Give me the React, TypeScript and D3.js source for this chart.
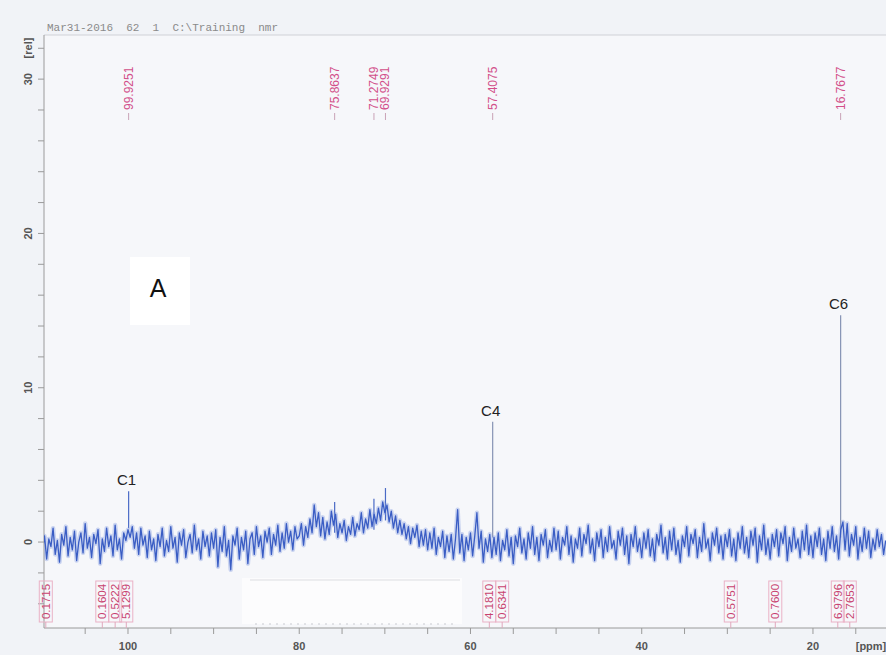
import React from 'react';
import * as d3 from 'd3';

// 13C spectrum, intensity read every 0.25 ppm starting at 110 ppm (going upfield)
const noise110to100 = [-0.6, 0.4, -1.1, 0.2, -0.3, 0.9, -0.8, 0.1, -1.3, 0.5, -0.2, 1.0, -0.9, 0.3, -0.5, 0.7, -1.2, 0.0, 0.6, -0.7, 1.2, -0.4, 0.3, -1.0, 0.5, -0.1, 0.8, -1.4, 0.2, -0.6, 0.9, -0.3, 0.4, -0.9, 1.1, -0.5, 0.2, -1.1, 0.6, 0.1];
const noise100to90 = [0.8, 0.3, 1.0, -0.4, 0.6, -0.8, 0.9, -0.2, 0.4, -1.0, 0.7, -0.5, 0.2, -1.2, 0.5, -0.3, 0.9, -0.9, 0.1, -0.6, 1.0, -0.4, 0.3, -1.3, 0.6, -0.2, 0.8, -1.0, 0.0, 0.5, -0.7, 1.1, -0.5, 0.2, -1.1, 0.7, -0.3, 0.4, -0.9, 0.6];
const noise90to80 = [-0.4, 0.8, -1.6, 0.3, -0.6, 1.0, -0.9, 0.1, -1.8, 0.4, -0.2, 0.9, -1.1, 0.3, -0.5, 0.7, -1.4, 0.2, 0.6, -0.8, 1.0, -0.3, 0.4, -1.0, 0.7, 0.0, 0.9, -0.8, 0.5, -0.2, 1.1, -0.6, 0.6, -0.4, 1.2, 0.0, 0.7, -0.5, 1.0, 0.2];
const hump80to70 = [0.4, 1.2, -0.2, 1.0, 0.3, 1.5, 0.6, 2.4, 1.0, 1.9, 0.4, 1.6, 0.2, 1.3, 0.5, 2.0, 1.1, 1.8, 0.3, 1.2, 0.6, 1.4, 0.1, 1.0, 0.5, 1.6, 0.4, 1.2, 0.8, 1.9, 0.6, 1.5, 0.9, 2.1, 1.0, 1.8, 1.2, 2.2, 1.4, 2.6];
const hump70to60 = [1.9, 2.4, 1.3, 2.0, 0.9, 1.7, 0.6, 1.4, 0.5, 1.2, 0.2, 1.0, -0.1, 0.9, 0.3, 1.1, -0.3, 0.7, -0.2, 0.8, -0.5, 0.6, -0.4, 0.9, -0.8, 0.3, -0.3, 0.7, -1.0, 0.4, -0.6, 0.5, -1.1, 0.2, 2.1, -0.7, 0.5, -1.2, 0.3, -0.5];
const noise60to50 = [0.6, -0.9, 0.4, 1.9, -0.4, 0.7, -1.3, 0.2, -0.6, 0.5, -1.0, 0.3, -0.8, 0.6, -1.2, 0.1, -0.5, 0.8, -0.9, 0.3, -1.4, 0.4, -0.3, 0.9, -0.7, 0.2, -1.1, 0.6, -0.4, 1.0, -0.8, 0.3, -1.2, 0.5, -0.2, 0.8, -1.0, 0.1, -0.6, 0.9];
const noise50to40 = [-0.5, 0.7, -1.1, 0.3, -0.2, 1.0, -0.8, 0.4, -1.3, 0.2, -0.4, 0.9, -0.9, 0.5, -0.1, 1.1, -0.7, 0.2, -1.2, 0.6, -0.3, 0.8, -1.0, 0.3, -0.6, 1.0, -0.4, 0.1, -1.1, 0.7, -0.2, 0.9, -0.8, 0.4, -1.4, 0.5, -0.3, 1.0, -0.6, 0.2];
const noise40to30 = [-1.0, 0.6, -0.4, 0.8, -0.9, 0.2, -1.2, 0.5, -0.2, 1.1, -0.7, 0.3, -1.1, 0.7, -0.5, 0.9, -0.8, 0.1, -1.3, 0.4, -0.3, 1.0, -0.9, 0.5, -0.1, 0.8, -1.0, 0.3, -0.6, 1.2, -0.4, 0.2, -1.2, 0.6, -0.2, 0.9, -0.7, 0.4, -1.1, 0.5];
const noise30to20 = [-0.3, 0.8, -0.9, 0.2, -1.2, 0.6, -0.4, 1.0, -0.7, 0.3, -1.0, 0.7, -0.2, 0.9, -1.3, 0.4, -0.5, 1.1, -0.8, 0.2, -1.1, 0.5, -0.3, 0.8, -0.9, 0.6, -0.1, 1.0, -1.2, 0.3, -0.6, 0.9, -0.4, 0.2, -1.0, 0.7, -0.5, 1.1, -0.8, 0.4];
const noise20to11 = [-1.0, 0.6, -0.3, 0.9, -0.8, 0.2, -1.2, 0.7, -0.4, 1.0, -0.6, 0.4, -1.1, 0.8, 1.3, -0.5, 1.2, -0.9, 0.5, -0.2, 1.0, -1.1, 0.3, -0.6, 0.9, -0.4, 0.7, -1.0, 0.2, -0.5, 0.8, -0.3, 0.5, -0.8, 0.1];
const startPpm = 110;
const stepPpm = 0.25;

// picked peaks (apex height and where the spike leaves the noise band)
const peakPpm = [99.9251, 75.8637, 71.2749, 69.9291, 57.4075, 16.7677];
const peakHeight = [3.3, 2.6, 2.8, 3.5, 7.8, 14.7];
const peakBase = [0.9, 0.6, 0.8, 1.4, 0.3, 0.3];
const peakNames = ['C1', '', '', '', 'C4', 'C6'];

// integrals along the bottom
const integralPpm = [109.6, 103.0, 101.5, 100.2, 57.8, 56.3, 29.6, 24.4, 17.1, 15.7];
const integralValues = ['0.1715', '0.1604', '0.5222', '5.1299', '4.1810', '0.6341', '0.5751', '0.7600', '6.9796', '2.7653'];

const xTickValues = [100, 80, 60, 40, 20];
const yTickValues = [0, 10, 20, 30];

const W = 886, H = 655;
const left = 44, right = 886, top = 35, bottom = 628;
const pink = '#d2508a';
const axisGray = '#9a9a9a';

export default function App() {
  const x = d3.scaleLinear().domain([109.81, 11.47]).range([left, right]);
  const y = d3.scaleLinear().domain([-5.57, 32.86]).range([bottom, top]);

  const noise = [].concat(noise110to100, noise100to90, noise90to80, hump80to70, hump70to60,
    noise60to50, noise50to40, noise40to30, noise30to20, noise20to11);
  const pts = noise.map((v, i) => ({ ppm: startPpm - i * stepPpm, v }));

  const line = d3.line<any>().x(d => x(d.ppm)).y(d => y(d.v));
  const minorX = d3.range(10, 111, 5).filter(v => x(v) >= left && x(v) <= right);
  const minorY = d3.range(-4, 33, 2);
  const font = 'Liberation Sans, Arial, sans-serif';

  return (
    <svg width={W} height={H} style={{ position: 'fixed', left: 0, top: 0, background: '#f1f3f7' }}>
      <defs>
        <clipPath id="plot"><rect x={left} y={top} width={right - left} height={bottom - top} /></clipPath>
        <filter id="soft"><feGaussianBlur stdDeviation="0.5" /></filter>
      </defs>
      <rect x={0} y={0} width={W} height={H} fill="#f1f3f7" />
      <rect x={left} y={top} width={right - left} height={bottom - top} fill="#f6f7fa" />
      {/* header line of the printout */}
      <text x={47} y={31} fontFamily="Liberation Mono, Courier New, monospace" fontSize={11} fill="#8a8a8a" xmlSpace="preserve">
        {'Mar31-2016  62  1  C:\\Training  nmr'}
      </text>

      {/* frame */}
      <line x1={left} x2={right} y1={top} y2={top} stroke="#cfd1d6" strokeWidth={1} />
      <line x1={left} x2={left} y1={top} y2={bottom} stroke={axisGray} strokeWidth={1} />
      <line x1={left} x2={right} y1={bottom} y2={bottom} stroke={axisGray} strokeWidth={1} />

      {/* y axis */}
      {minorY.map(v => (
        <line key={'yt' + v} x1={left - 6} x2={left} y1={y(v)} y2={y(v)} stroke={axisGray} />
      ))}
      {yTickValues.map(v => (
        <text key={'yl' + v} transform={`translate(28,${y(v)}) rotate(-90)`} textAnchor="middle" dominantBaseline="central"
          fontFamily={font} fontWeight="bold" fontSize={11} fill="#555">{v}</text>
      ))}
      <text transform="translate(28,48) rotate(-90)" textAnchor="middle" dominantBaseline="central"
        fontFamily={font} fontWeight="bold" fontSize={11} fill="#555">[rel]</text>

      {/* x axis */}
      {minorX.map(v => (
        <line key={'xt' + v} x1={x(v)} x2={x(v)} y1={bottom} y2={bottom + 6} stroke={axisGray} />
      ))}
      {xTickValues.map(v => (
        <text key={'xl' + v} x={x(v)} y={650} textAnchor="middle"
          fontFamily={font} fontWeight="bold" fontSize={11} fill="#555">{v}</text>
      ))}
      <text x={871} y={650} textAnchor="middle" fontFamily={font} fontWeight="bold" fontSize={11} fill="#555">[ppm]</text>

      {/* erased patch under the spectrum */}
      <rect x={242} y={578} width={220} height={46} fill="#fcfcfd" />
      <line x1={250} x2={460} y1={580} y2={580} stroke="#dcdde1" strokeWidth={1} />
      <line x1={255} x2={455} y1={624} y2={624} stroke="#c9cbd0" strokeWidth={1} strokeDasharray="2 5" />

      {/* spectrum */}
      <g clipPath="url(#plot)">
        {peakPpm.map((p, i) => (
          <line key={'sp' + i} x1={x(p)} x2={x(p)} y1={y(peakBase[i])} y2={y(peakHeight[i])}
            stroke={peakHeight[i] > 5 ? '#8592b4' : '#4a6ac6'} strokeWidth={1.2} />
        ))}
        <path d={line(pts)} fill="none" stroke="#7893dc" strokeWidth={4.5} strokeOpacity={0.35} strokeLinejoin="round" filter="url(#soft)" />
        <path d={line(pts)} fill="none" stroke="#3a5dc4" strokeWidth={1.3} strokeLinejoin="round" />
      </g>

      {/* peak picking labels */}
      {peakPpm.map((p, i) => (
        <g key={'pk' + i}>
          <text transform={`translate(${x(p)},110) rotate(-90)`} textAnchor="start" dominantBaseline="central"
            fontFamily={font} fontSize={12} fill={pink}>{p.toFixed(4)}</text>
          <line x1={x(p)} x2={x(p)} y1={113} y2={120} stroke="#c9a3b6" strokeWidth={1} />
        </g>
      ))}

      {/* integrals */}
      {integralPpm.map((p, i) => (
        <g key={'in' + i}>
          <rect x={x(p) - 6.5} y={581} width={13} height={41} fill="none" stroke="#eab2c6" strokeWidth={1} />
          <line x1={x(p)} x2={x(p)} y1={622} y2={bottom} stroke="#e0a8bc" />
          <text transform={`translate(${x(p)},601.5) rotate(-90)`} textAnchor="middle" dominantBaseline="central"
            fontFamily={font} fontSize={11.5} fill="#c8426f">{integralValues[i]}</text>
        </g>
      ))}

      {/* carbon assignments */}
      {peakPpm.map((p, i) => peakNames[i] ? (
        <text key={'cn' + i} x={x(p) - 2} y={y(peakHeight[i]) - 6} textAnchor="middle"
          fontFamily={font} fontSize={15} fill="#222">{peakNames[i]}</text>
      ) : null)}

      {/* panel label */}
      <rect x={130} y={257} width={60} height={68} fill="#ffffff" />
      <text x={158} y={297} textAnchor="middle" fontFamily={font} fontSize={25} fill="#111">A</text>
    </svg>
  );
}
